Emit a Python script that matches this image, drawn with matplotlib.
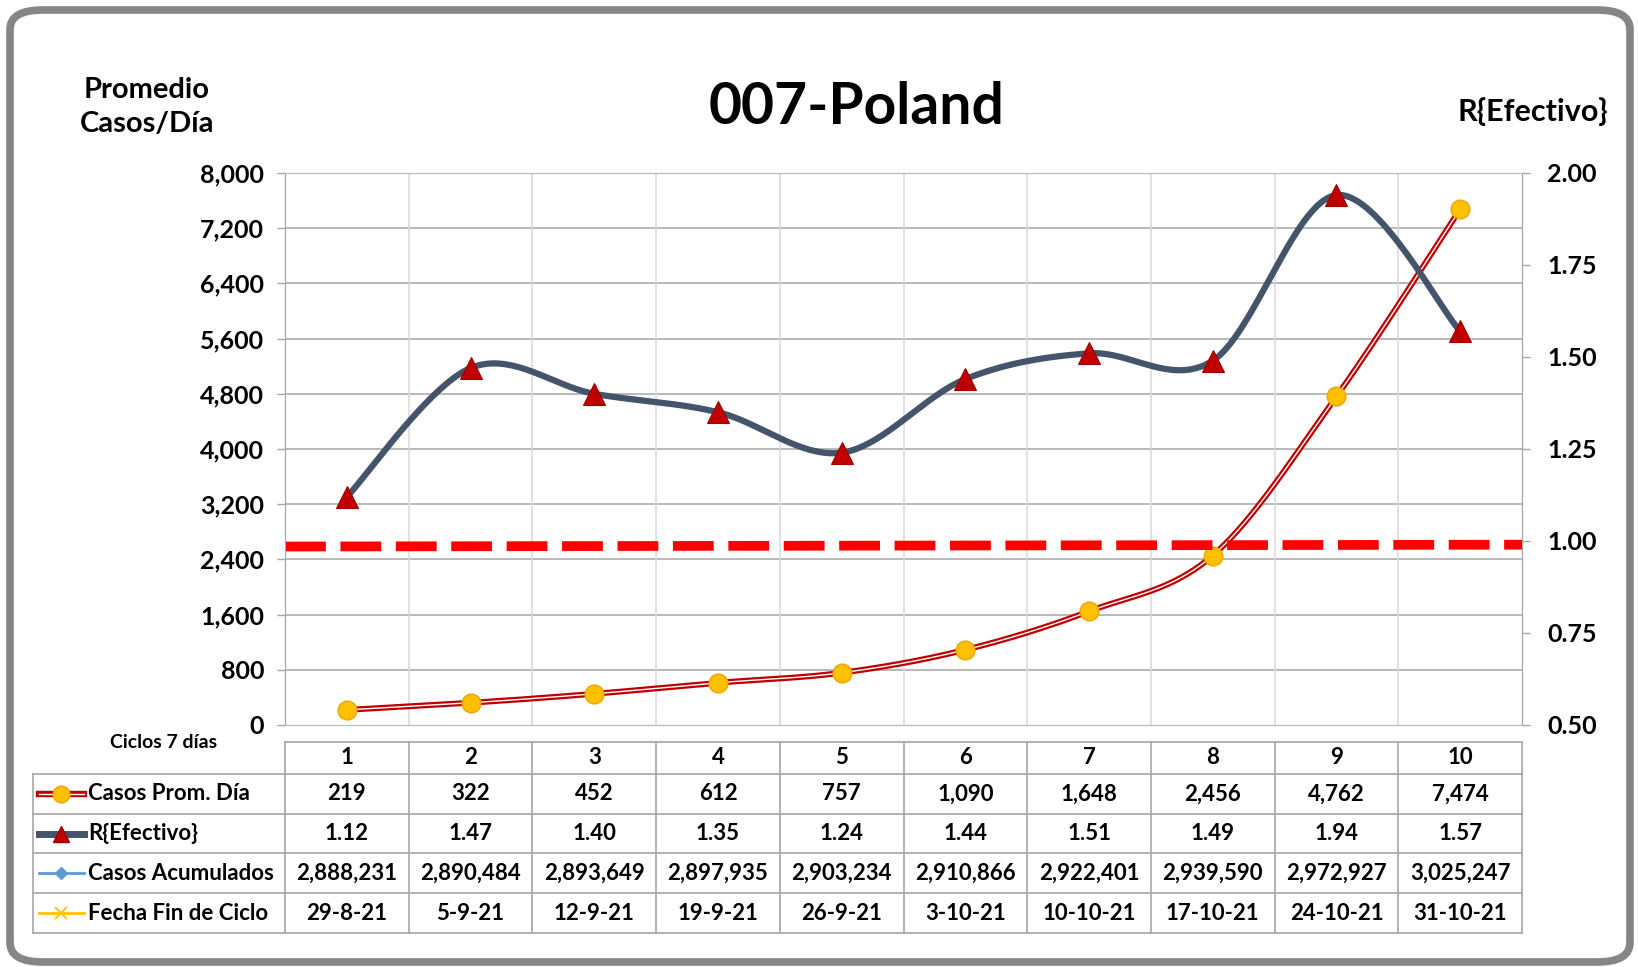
import numpy as np
import matplotlib.pyplot as plt
from matplotlib.patches import FancyBboxPatch
from matplotlib.lines import Line2D
from matplotlib.transforms import blended_transform_factory
from matplotlib.ticker import FuncFormatter

plt.rcParams['font.family'] = ['Lato', 'DejaVu Sans']
plt.rcParams['font.weight'] = 'bold'

# data
ciclos = [1, 2, 3, 4, 5, 6, 7, 8, 9, 10]
casos_prom = [219, 322, 452, 612, 757, 1090, 1648, 2456, 4762, 7474]
r_efectivo = [1.12, 1.47, 1.40, 1.35, 1.24, 1.44, 1.51, 1.49, 1.94, 1.57]
casos_acum = [2888231, 2890484, 2893649, 2897935, 2903234,
              2910866, 2922401, 2939590, 2972927, 3025247]
fechas = ['29-8-21', '5-9-21', '12-9-21', '19-9-21', '26-9-21',
          '3-10-21', '10-10-21', '17-10-21', '24-10-21', '31-10-21']
umbral_r = [0.985, 0.99]  # reference line R = 1 (start, end)

W, H = 1638, 967
RED = '#C00000'
SLATE = '#44546A'
GOLD = '#FFC000'
BLUE = '#5B9BD5'


def smooth(xs, ys, n=40):
    # Excel-style smoothed line (Bezier through the points)
    pts = np.column_stack([xs, ys]).astype(float)
    p = np.vstack([pts[0], pts, pts[-1]])
    out = []
    t = np.linspace(0, 1, n)[:, None]
    for i in range(1, len(p) - 2):
        p0, p1, p2, p3 = p[i - 1], p[i], p[i + 1], p[i + 2]
        c1 = p1 + (p2 - p0) / 6
        c2 = p2 - (p3 - p1) / 6
        seg = (1 - t) ** 3 * p1 + 3 * (1 - t) ** 2 * t * c1 + 3 * (1 - t) * t ** 2 * c2 + t ** 3 * p2
        out.append(seg if i == 1 else seg[1:])
    out = np.vstack(out)
    return out[:, 0], out[:, 1]


def fy(px):
    return 1 - px / H


def fx(px):
    return px / W


fig = plt.figure(figsize=(W / 100, H / 100), dpi=100)
fig.patch.set_facecolor('white')

# rounded outer frame
frame = FancyBboxPatch((fx(10), fy(962)), fx(1620), (962 - 10) / H,
                       boxstyle='round,pad=0,rounding_size=0.02',
                       transform=fig.transFigure, facecolor='none',
                       edgecolor='#868686', linewidth=5.5)
fig.patches.append(frame)

ax = fig.add_axes([fx(285), fy(725), fx(1522 - 285), (725 - 173) / H])
ax2 = ax.twinx()

ax.set_xlim(0.5, 10.5)
ax.set_ylim(0, 8000)
ax.set_yticks(np.arange(0, 8001, 800))
ax.yaxis.set_major_formatter(FuncFormatter(lambda v, p: f'{int(v):,}'))
ax2.set_ylim(0.5, 2.0)
ax2.set_yticks(np.arange(0.5, 2.01, 0.25))
ax2.yaxis.set_major_formatter(FuncFormatter(lambda v, p: f'{v:.2f}'))

ax.set_xticks([])
ax.tick_params(axis='y', labelsize=18, length=6, width=1, color='#A6A6A6', pad=9)
ax2.tick_params(axis='y', labelsize=18, length=6, width=1, color='#A6A6A6', pad=12)
for a in (ax, ax2):
    for s in a.spines.values():
        s.set_color('#A6A6A6')
    a.spines['top'].set_color('#9DC3E6')
    a.spines['bottom'].set_color('#9DC3E6')

# grid
for v in np.arange(800, 8000, 800):
    ax.axhline(v, color='#A6A6A6', linewidth=1.1, zorder=0)
for c in ciclos[:-1]:
    ax.axvline(c + 0.5, color='#D9D9D9', linewidth=1.1, zorder=0)

# casos line (double red line)
sx, sy = smooth(ciclos, casos_prom)
ax.plot(sx, sy, color=RED, linewidth=4.2, solid_capstyle='round', zorder=3)
ax.plot(sx, sy, color='white', linewidth=1.0, solid_capstyle='round', zorder=3)
ax.plot(ciclos, casos_prom, linestyle='none', marker='o', markersize=13.5,
        markerfacecolor=GOLD, markeredgecolor='#F0A400', markeredgewidth=1, zorder=4)

# R line
rx, ry = smooth(ciclos, r_efectivo)
ax2.plot(ax.get_xlim(), umbral_r, color='#FF0000', linewidth=7,
         dashes=(4.2, 1.5), dash_capstyle='butt', zorder=2)
ax2.plot(rx, ry, color=SLATE, linewidth=4.5, solid_capstyle='round', zorder=3)
ax2.plot(ciclos, r_efectivo, linestyle='none', marker='^', markersize=16,
         markerfacecolor=RED, markeredgecolor='#A00000', markeredgewidth=0.8, zorder=4)
ax2.set_xlim(0.5, 10.5)

# titles
fig.text(fx(857), fy(107), '007-Poland', fontsize=41, fontweight='bold',
         ha='center', va='center')
fig.text(fx(147), fy(107), 'Promedio\nCasos/Día', fontsize=21, fontweight='bold',
         ha='center', va='center', linespacing=1.35)
fig.text(fx(1533), fy(112), 'R{Efectivo}', fontsize=22, fontweight='bold',
         ha='center', va='center')
fig.text(fx(164), fy(742), 'Ciclos 7 días', fontsize=14, fontweight='bold',
         ha='center', va='center')

# data table below the plot
tr = blended_transform_factory(ax.transData, fig.transFigure)
gcol = '#A6A6A6'
top_hdr, rows_y = 742, [774, 814, 853, 893, 933]
left_px = 33

# horizontal lines
fig.add_artist(Line2D([0.5, 10.5], [fy(top_hdr)] * 2, transform=tr, color=gcol, linewidth=1.2))
for yy in rows_y:
    fig.add_artist(Line2D([fx(left_px), fx(285)], [fy(yy)] * 2, transform=fig.transFigure,
                          color=gcol, linewidth=1.2))
    fig.add_artist(Line2D([0.5, 10.5], [fy(yy)] * 2, transform=tr, color=gcol, linewidth=1.2))
# vertical lines
fig.add_artist(Line2D([fx(left_px)] * 2, [fy(rows_y[0]), fy(rows_y[-1])],
                      transform=fig.transFigure, color=gcol, linewidth=1.2))
for c in ciclos + [0]:
    fig.add_artist(Line2D([c + 0.5] * 2, [fy(top_hdr), fy(rows_y[-1])], transform=tr,
                          color=gcol, linewidth=1.2))

row_vals = [[f'{v:,}' for v in casos_prom],
            [f'{v:.2f}' for v in r_efectivo],
            [f'{v:,}' for v in casos_acum],
            fechas]
row_names = ['Casos Prom. Día', 'R{Efectivo}', 'Casos Acumulados', 'Fecha Fin de Ciclo']
row_centers = [(rows_y[i] + rows_y[i + 1]) / 2 for i in range(4)]

for c in ciclos:
    fig.text(c, fy((top_hdr + rows_y[0]) / 2), str(c), transform=tr, fontsize=16,
             fontweight='bold', ha='center', va='center')
for vals, yc in zip(row_vals, row_centers):
    for c, v in zip(ciclos, vals):
        fig.text(c, fy(yc), v, transform=tr, fontsize=16, fontweight='bold',
                 ha='center', va='center')

for name, yc in zip(row_names, row_centers):
    fig.text(fx(88), fy(yc), name, fontsize=16, fontweight='bold', ha='left', va='center')

# legend keys in the table
kx = [fx(39), fx(84)]
kxm = fx(61)
y0 = fy(row_centers[0])
fig.add_artist(Line2D(kx, [y0, y0], transform=fig.transFigure, color=RED, linewidth=4.6))
fig.add_artist(Line2D(kx, [y0, y0], transform=fig.transFigure, color='white', linewidth=1.0))
fig.add_artist(Line2D([kxm], [y0], transform=fig.transFigure, marker='o', markersize=12,
                      markerfacecolor=GOLD, markeredgecolor='#F0A400'))
y1 = fy(row_centers[1])
fig.add_artist(Line2D(kx, [y1, y1], transform=fig.transFigure, color=SLATE, linewidth=5))
fig.add_artist(Line2D([kxm], [y1], transform=fig.transFigure, marker='^', markersize=12,
                      markerfacecolor=RED, markeredgecolor='#A00000'))
y2 = fy(row_centers[2])
fig.add_artist(Line2D(kx, [y2, y2], transform=fig.transFigure, color=BLUE, linewidth=2))
fig.add_artist(Line2D([kxm], [y2], transform=fig.transFigure, marker='D', markersize=6,
                      markerfacecolor=BLUE, markeredgecolor=BLUE))
y3 = fy(row_centers[3])
fig.add_artist(Line2D(kx, [y3, y3], transform=fig.transFigure, color=GOLD, linewidth=2))
fig.add_artist(Line2D([kxm], [y3], transform=fig.transFigure, marker='x', markersize=9,
                      markeredgecolor=GOLD, markeredgewidth=1.3))

fig.savefig('out.png', dpi=100, facecolor='white')
